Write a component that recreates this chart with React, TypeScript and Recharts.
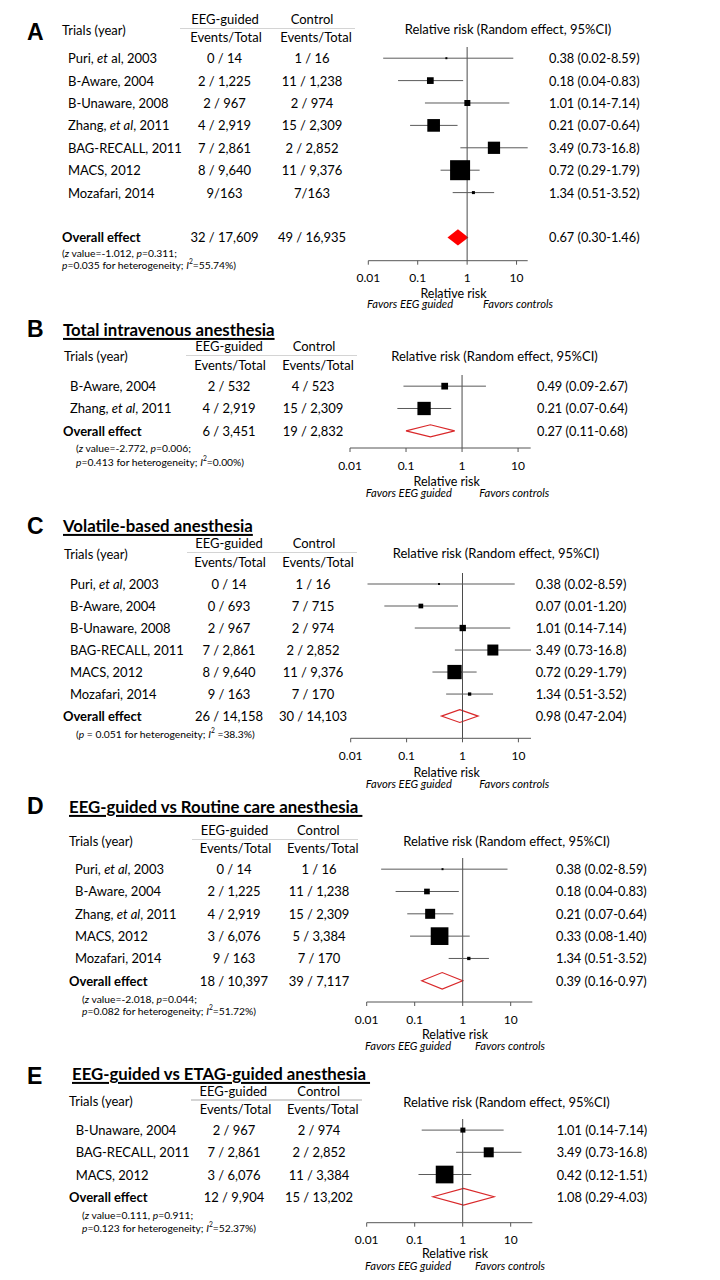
import React from 'react';
import { ComposedChart, Scatter, XAxis, YAxis, ReferenceLine, ReferenceArea, ErrorBar } from 'recharts';

const FONT = 'Lato, "Open Sans", sans-serif';
const rrTicks = [0.01, 0.1, 1, 10];

// ---------- Panel A ----------
const aTrials = ['Puri, *et* al, 2003', 'B-Aware, 2004', 'B-Unaware, 2008', 'Zhang, *et al*, 2011', 'BAG-RECALL, 2011', 'MACS, 2012', 'Mozafari, 2014'];
const aEeg = ['0 / 14', '2 / 1,225', '2 / 967', '4 / 2,919', '7 / 2,861', '8 / 9,640', '9/163'];
const aCtrl = ['1 / 16', '11 / 1,238', '2 / 974', '15 / 2,309', '2 / 2,852', '11 / 9,376', '7/163'];
const aRR = [0.38, 0.18, 1.01, 0.21, 3.49, 0.72, 1.34];
const aLo = [0.02, 0.04, 0.14, 0.07, 0.73, 0.29, 0.51];
const aHi = [8.59, 0.83, 7.14, 0.64, 16.8, 1.79, 3.52];
const aWeight = [0.4, 4.5, 3.6, 16, 15, 40, 0.9];
const aLabels = ['0.38 (0.02-8.59)', '0.18 (0.04-0.83)', '1.01 (0.14-7.14)', '0.21 (0.07-0.64)', '3.49 (0.73-16.8)', '0.72 (0.29-1.79)', '1.34 (0.51-3.52)'];
const aOverall = ['32 / 17,609', '49 / 16,935', '0.67 (0.30-1.46)'];
const aDiamond = [0.40, 1.06];

// ---------- Panel B ----------
const bTrials = ['B-Aware, 2004', 'Zhang, *et al*, 2011'];
const bEeg = ['2 / 532', '4 / 2,919'];
const bCtrl = ['4 / 523', '15 / 2,309'];
const bRR = [0.49, 0.21];
const bLo = [0.09, 0.07];
const bHi = [2.67, 0.64];
const bWeight = [4.5, 17.7];
const bLabels = ['0.49 (0.09-2.67)', '0.21 (0.07-0.64)'];
const bOverall = ['6 / 3,451', '19 / 2,832', '0.27 (0.11-0.68)'];
const bDiamond = [0.10, 0.74];

// ---------- Panel C ----------
const cTrials = ['Puri, *et al*, 2003', 'B-Aware, 2004', 'B-Unaware, 2008', 'BAG-RECALL, 2011', 'MACS, 2012', 'Mozafari, 2014'];
const cEeg = ['0 / 14', '0 / 693', '2 / 967', '7 / 2,861', '8 / 9,640', '9 / 163'];
const cCtrl = ['1 / 16', '7 / 715', '2 / 974', '2 / 2,852', '11 / 9,376', '7 / 170'];
const cRR = [0.38, 0.18, 1.01, 3.49, 0.72, 1.34];
const cLo = [0.02, 0.04, 0.14, 0.73, 0.29, 0.51];
const cHi = [8.59, 0.83, 7.14, 16.8, 1.79, 3.52];
const cWeight = [0.4, 2.2, 4, 12.1, 20.4, 1.1];
const cLabels = ['0.38 (0.02-8.59)', '0.07 (0.01-1.20)', '1.01 (0.14-7.14)', '3.49 (0.73-16.8)', '0.72 (0.29-1.79)', '1.34 (0.51-3.52)'];
const cOverall = ['26 / 14,158', '30 / 14,103', '0.98 (0.47-2.04)'];
const cDiamond = [0.42, 1.9];

// ---------- Panel D ----------
const dTrials = ['Puri, *et al*, 2003', 'B-Aware, 2004', 'Zhang, *et al*, 2011', 'MACS, 2012', 'Mozafari, 2014'];
const dEeg = ['0 / 14', '2 / 1,225', '4 / 2,919', '3 / 6,076', '9 / 163'];
const dCtrl = ['1 / 16', '11 / 1,238', '15 / 2,309', '5 / 3,384', '7 / 170'];
const dRR = [0.38, 0.18, 0.21, 0.33, 1.34];
const dLo = [0.02, 0.04, 0.07, 0.08, 0.51];
const dHi = [8.59, 0.83, 0.64, 1.40, 3.52];
const dWeight = [0.4, 3.2, 10, 31.3, 1.1];
const dLabels = ['0.38 (0.02-8.59)', '0.18 (0.04-0.83)', '0.21 (0.07-0.64)', '0.33 (0.08-1.40)', '1.34 (0.51-3.52)'];
const dOverall = ['18 / 10,397', '39 / 7,117', '0.39 (0.16-0.97)'];
const dDiamond = [0.14, 1.0];

// ---------- Panel E ----------
const eTrials = ['B-Unaware, 2004', 'BAG-RECALL, 2011', 'MACS, 2012'];
const eEeg = ['2 / 967', '7 / 2,861', '3 / 6,076'];
const eCtrl = ['2 / 974', '2 / 2,852', '11 / 3,384'];
const eRR = [1.01, 3.49, 0.42];
const eLo = [0.14, 0.73, 0.12];
const eHi = [7.14, 16.8, 1.51];
const eWeight = [2.5, 10, 31.3];
const eLabels = ['1.01 (0.14-7.14)', '3.49 (0.73-16.8)', '0.42 (0.12-1.51)'];
const eOverall = ['12 / 9,904', '15 / 13,202', '1.08 (0.29-4.03)'];
const eDiamond = [0.24, 4.5];

const ROW_SIZE = 13;

const rich = (s: string) =>
  s.split('*').map((seg, i) =>
    i % 2 ? <tspan key={i} fontStyle="italic">{seg}</tspan> : <tspan key={i}>{seg}</tspan>
  );

const Sup2 = () => <sup style={{ fontSize: '0.65em', verticalAlign: 'super', lineHeight: 0 }}>2</sup>;

const Txt = ({ x, y, anchor = 'start', size = ROW_SIZE, weight = 400, italic = false, family = FONT, underline = false, children }: any) => (
  <div
    style={{
      position: 'absolute', left: x, top: y,
      transform: `translate(${anchor === 'middle' ? '-50%' : '0'}, -50%)`,
      fontSize: size, fontFamily: family, fontWeight: weight,
      fontStyle: italic ? 'italic' : 'normal', whiteSpace: 'nowrap', lineHeight: 1.2,
      color: '#000', textDecoration: underline ? 'underline' : 'none',
      textDecorationThickness: underline ? 1.5 : undefined, textUnderlineOffset: underline ? 2 : undefined,
    }}
  >
    {children}
  </div>
);

const LeftTick = ({ y, payload, d, L }: any) => {
  const i = payload.value;
  const ov = i === L.overallIdx;
  const name = ov ? 'Overall effect' : d.trials[i];
  const e = ov ? d.overall[0] : d.eeg[i];
  const c = ov ? d.overall[1] : d.ctrl[i];
  return (
    <g fontFamily={FONT} fontSize={ROW_SIZE} fill="#000">
      <text x={ov ? L.overallX : L.nameX} y={y} dominantBaseline="central" fontWeight={ov ? 700 : 400}>{rich(name)}</text>
      <text x={L.eegX} y={y} textAnchor="middle" dominantBaseline="central">{e}</text>
      <text x={L.ctrlX} y={y} textAnchor="middle" dominantBaseline="central">{c}</text>
    </g>
  );
};

const RightTick = ({ y, payload, d, L }: any) => {
  const i = payload.value;
  const ov = i === L.overallIdx;
  return (
    <text x={L.rrX} y={y} dominantBaseline="central" fontFamily={FONT} fontSize={12.8} fill="#000">
      {ov ? d.overall[2] : d.labels[i]}
    </text>
  );
};

const boxShape = (p: any) => {
  const s = Math.sqrt(p.payload.w * 10);
  return <rect x={p.cx - s / 2} y={p.cy - s / 2} width={s} height={s} fill="#000" />;
};

const diamondShape = (filled: boolean) => (p: any) => {
  const { x, y, width, height } = p;
  const cx = x + width / 2;
  const cy = y + height / 2;
  return (
    <polygon
      points={`${x},${cy} ${cx},${y} ${x + width},${cy} ${cx},${y + height}`}
      fill={filled ? '#ff0000' : 'none'}
      stroke={filled ? 'none' : '#d9282a'}
      strokeWidth={1.2}
    />
  );
};

function Panel({ d, L }: any) {
  const n = d.trials.length;
  const pts = d.rr.map((v: number, i: number) => ({ y: i, rr: v, w: d.weight[i], err: [v - d.lo[i], d.hi[i] - v] }));
  const rowTicks = [...Array.from({ length: n }, (_, i) => i), L.overallIdx];
  const chartH = L.axisY - L.plotTop + 30;
  return (
    <>
      <Txt x={L.letterX} y={L.letterY} size={23} weight={700} family='"Liberation Sans", Arial, sans-serif'>{L.letter}</Txt>
      {L.title && (
        <Txt x={L.titleX} y={L.titleY} size={16.8} weight={700} underline>{L.title}</Txt>
      )}
      <Txt x={L.trialsX} y={L.trialsY}>Trials (year)</Txt>
      <Txt x={L.eegHeadX} y={L.headTopY} anchor="middle">EEG-guided</Txt>
      <Txt x={L.ctrlHeadX} y={L.headTopY} anchor="middle">Control</Txt>
      <div style={{ position: 'absolute', left: L.ruleX1, top: L.ruleY, width: L.ruleX2 - L.ruleX1, height: 1.5, background: '#d4d4d4' }} />
      <Txt x={L.eegSubX} y={L.headBotY} anchor="middle">Events/Total</Txt>
      <Txt x={L.ctrlSubX} y={L.headBotY} anchor="middle">Events/Total</Txt>
      <Txt x={L.rrHeadX} y={L.rrHeadY} anchor="middle" size={13}>Relative risk (Random effect, 95%CI)</Txt>
      {L.foot.map((f: any, i: number) => (
        <Txt key={i} x={L.footX} y={L.footY[i]} size={10.3}>{f}</Txt>
      ))}
      <Txt x={L.rrLabelX} y={L.rrLabelY} anchor="middle" size={12.5}>Relative risk</Txt>
      <Txt x={L.fav1X} y={L.favY} size={11.2} italic>Favors EEG guided</Txt>
      <Txt x={L.fav2X} y={L.favY} size={11.2} italic>Favors controls</Txt>
      <div style={{ position: 'absolute', left: 0, top: L.plotTop }}>
        <ComposedChart width={720} height={chartH} margin={{ top: 0, right: 0, bottom: 0, left: 0 }}>
          <XAxis
            type="number" dataKey="rr" scale="log" domain={[0.01, L.xMax]} allowDataOverflow
            ticks={rrTicks} interval={0} tickFormatter={(v: number) => String(v)}
            tick={{ fontSize: 12, fill: '#000', fontFamily: FONT }}
            tickSize={4} tickMargin={9} stroke="#555" height={30}
          />
          <YAxis
            yAxisId="left" type="number" dataKey="y" domain={[-0.5, L.yMax]} reversed allowDataOverflow
            ticks={rowTicks} interval={0} width={L.plotLeft} axisLine={false} tickLine={false}
            tick={(p: any) => <LeftTick {...p} d={d} L={L} />}
          />
          <YAxis
            yAxisId="right" orientation="right" type="number" dataKey="y" domain={[-0.5, L.yMax]} reversed allowDataOverflow
            ticks={rowTicks} interval={0} width={720 - L.plotRight} axisLine={false} tickLine={false}
            tick={(p: any) => <RightTick {...p} d={d} L={L} />}
          />
          <ReferenceLine yAxisId="left" x={1} stroke="#4a4a4a" strokeWidth={1} />
          <ReferenceArea
            yAxisId="left" x1={d.diamond[0]} x2={d.diamond[1]}
            y1={L.overallIdx - L.dh} y2={L.overallIdx + L.dh}
            shape={diamondShape(L.filled)}
          />
          <Scatter yAxisId="left" data={pts} shape={boxShape} isAnimationActive={false}>
            <ErrorBar dataKey="err" direction="x" width={0} stroke="#5a5a5a" strokeWidth={1} isAnimationActive={false} />
          </Scatter>
        </ComposedChart>
      </div>
    </>
  );
}

const panelA = { trials: aTrials, eeg: aEeg, ctrl: aCtrl, rr: aRR, lo: aLo, hi: aHi, weight: aWeight, labels: aLabels, overall: aOverall, diamond: aDiamond };
const panelB = { trials: bTrials, eeg: bEeg, ctrl: bCtrl, rr: bRR, lo: bLo, hi: bHi, weight: bWeight, labels: bLabels, overall: bOverall, diamond: bDiamond };
const panelC = { trials: cTrials, eeg: cEeg, ctrl: cCtrl, rr: cRR, lo: cLo, hi: cHi, weight: cWeight, labels: cLabels, overall: cOverall, diamond: cDiamond };
const panelD = { trials: dTrials, eeg: dEeg, ctrl: dCtrl, rr: dRR, lo: dLo, hi: dHi, weight: dWeight, labels: dLabels, overall: dOverall, diamond: dDiamond };
const panelE = { trials: eTrials, eeg: eEeg, ctrl: eCtrl, rr: eRR, lo: eLo, hi: eHi, weight: eWeight, labels: eLabels, overall: eOverall, diamond: eDiamond };

const layoutA = {
  letter: 'A', letterX: 27, letterY: 33, filled: true, dh: 0.36,
  plotLeft: 368.3, plotRight: 527.7, plotTop: 47, axisY: 260.7, yMax: 9.04, xMax: 16.8, overallIdx: 8,
  nameX: 68, overallX: 62, eegX: 224.5, ctrlX: 312, rrX: 549,
  trialsX: 62, trialsY: 31, headTopY: 20, headBotY: 38, eegHeadX: 225, ctrlHeadX: 312, eegSubX: 226, ctrlSubX: 316,
  ruleX1: 180, ruleX2: 355, ruleY: 27.5,
  rrHeadX: 508, rrHeadY: 30, footX: 62, footY: [253, 264.5],
  rrLabelX: 453.5, rrLabelY: 292.7, favY: 304, fav1X: 367, fav2X: 483,
  foot: [
    <>(<i>z</i> value=-1.012, <i>p</i>=0.311;</>,
    <><i>p</i>=0.035 for heterogeneity; <i>I</i><Sup2 />=55.74%)</>,
  ],
};
const layoutB = {
  letter: 'B', letterX: 27, letterY: 330, title: 'Total intravenous anesthesia', titleX: 63, titleY: 330, filled: false, dh: 0.27,
  plotLeft: 350, plotRight: 530.7, plotTop: 375, axisY: 448, yMax: 2.77, xMax: 16.8, overallIdx: 2,
  nameX: 70, overallX: 63, eegX: 229, ctrlX: 313, rrX: 537,
  trialsX: 64, trialsY: 357, headTopY: 347, headBotY: 366, eegHeadX: 229, ctrlHeadX: 314, eegSubX: 230, ctrlSubX: 318,
  ruleX1: 186, ruleX2: 357, ruleY: 354.5,
  rrHeadX: 494.5, rrHeadY: 357, footX: 76, footY: [448, 462],
  rrLabelX: 446.7, rrLabelY: 480.7, favY: 492.7, fav1X: 365.7, fav2X: 479.3,
  foot: [
    <>(<i>z</i> value=-2.772, <i>p</i>=0.006;</>,
    <><i>p</i>=0.413 for heterogeneity; <i>I</i><Sup2 />=0.00%)</>,
  ],
};
const layoutC = {
  letter: 'C', letterX: 27, letterY: 527, title: 'Volatile-based anesthesia', titleX: 63, titleY: 526, filled: false, dh: 0.29,
  plotLeft: 350.7, plotRight: 531, plotTop: 573, axisY: 738.3, yMax: 7.01, xMax: 16.8, overallIdx: 6,
  nameX: 70, overallX: 63, eegX: 229, ctrlX: 313, rrX: 535.7,
  trialsX: 64, trialsY: 555, headTopY: 544, headBotY: 563, eegHeadX: 229, ctrlHeadX: 314, eegSubX: 230, ctrlSubX: 318,
  ruleX1: 187, ruleX2: 357, ruleY: 551.5,
  rrHeadX: 496, rrHeadY: 554.3, footX: 76, footY: [734],
  rrLabelX: 446.7, rrLabelY: 771.7, favY: 784, fav1X: 365.7, fav2X: 479.3,
  foot: [<>(<i>p</i> = 0.051 for heterogeneity; <i>I</i><Sup2 /> =38.3%)</>],
};
const layoutD = {
  letter: 'D', letterX: 27, letterY: 807, title: 'EEG-guided vs Routine care anesthesia\u00a0', titleX: 69, titleY: 806.7, filled: false, dh: 0.37,
  plotLeft: 366.7, plotRight: 532.3, plotTop: 858.3, axisY: 1002.3, yMax: 5.95, xMax: 28.2, overallIdx: 5,
  nameX: 75, overallX: 69, eegX: 234, ctrlX: 319, rrX: 556,
  trialsX: 69, trialsY: 841.7, headTopY: 831, headBotY: 849.3, eegHeadX: 234.5, ctrlHeadX: 318.3, eegSubX: 235.5, ctrlSubX: 322.8,
  ruleX1: 192, ruleX2: 358, ruleY: 838.5,
  rrHeadX: 506.5, rrHeadY: 841.7, footX: 82, footY: [999.3, 1010.7],
  rrLabelX: 455, rrLabelY: 1034.3, favY: 1045.7, fav1X: 365, fav2X: 475,
  foot: [
    <>(<i>z</i> value=-2.018, <i>p</i>=0.044;</>,
    <><i>p</i>=0.082 for heterogeneity; <i>I</i><Sup2 />=51.72%)</>,
  ],
};
const layoutE = {
  letter: 'E', letterX: 27, letterY: 1076.7, title: 'EEG-guided vs ETAG-guided anesthesia\u00a0', titleX: 72, titleY: 1074, filled: false, dh: 0.375,
  plotLeft: 366.7, plotRight: 532.3, plotTop: 1119, axisY: 1222.7, yMax: 4.17, xMax: 28.2, overallIdx: 3,
  nameX: 75.7, overallX: 69, eegX: 234, ctrlX: 319, rrX: 556.7,
  trialsX: 69, trialsY: 1101.7, headTopY: 1091.7, headBotY: 1110, eegHeadX: 233.3, ctrlHeadX: 318.7, eegSubX: 235.5, ctrlSubX: 322.8,
  ruleX1: 191, ruleX2: 362, ruleY: 1099,
  rrHeadX: 506.5, rrHeadY: 1103.3, footX: 82, footY: [1215, 1227.7],
  rrLabelX: 455, rrLabelY: 1253.3, favY: 1266, fav1X: 365, fav2X: 475,
  foot: [
    <>(<i>z</i> value=0.111, <i>p</i>=0.911;</>,
    <><i>p</i>=0.123 for heterogeneity; <i>I</i><Sup2 />=52.37%)</>,
  ],
};

export default function App() {
  return (
    <div style={{ position: 'absolute', left: 0, top: 0, width: 720, height: 1280, background: '#fff', overflow: 'hidden' }}>
      <Panel d={panelA} L={layoutA} />
      <Panel d={panelB} L={layoutB} />
      <Panel d={panelC} L={layoutC} />
      <Panel d={panelD} L={layoutD} />
      <Panel d={panelE} L={layoutE} />
    </div>
  );
}
